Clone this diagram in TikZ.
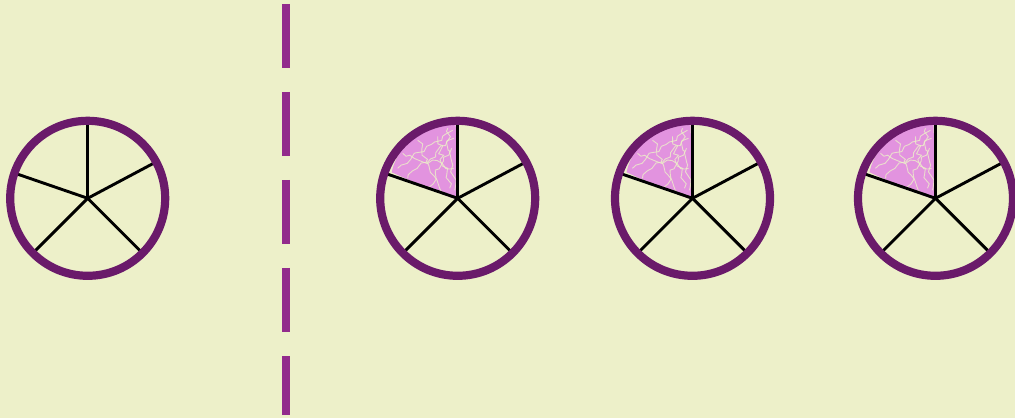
\documentclass[tikz,border=0pt]{standalone}
\usetikzlibrary{decorations.pathmorphing}
\definecolor{bg}{HTML}{EDF0C9}
\definecolor{ring}{HTML}{6A1A6A}
\definecolor{dashcol}{HTML}{922B8C}
\definecolor{pinkfill}{HTML}{E293DF}
\tikzset{
  ringline/.style={draw=ring, line width=8.2pt},
  spoke/.style={draw=black, line width=2.9pt},
  divider/.style={draw=dashcol, line width=8.3pt, dash pattern=on 64pt off 24pt},
  scrib/.style={draw=bg, line width=0.9pt, opacity=0.8,
    decorate, decoration={random steps, segment length=5pt, amplitude=3pt}}
}
\newcommand{\mywheel}[2]{%
  \coordinate (#1) at (#2,219.7);
  \draw[spoke] (#1) -- ++(90:77);
  \draw[spoke] (#1) -- ++(28:76);
  \draw[spoke] (#1) -- ++(-45:78);
  \draw[spoke] (#1) -- ++(-135:77);
  \draw[spoke] (#1) -- ++(161:81);
  \draw[ringline] (#1) circle (77.5);
}
\newcommand{\pinkwedge}[1]{%
  \begin{scope}[shift={(#1)}]
    \path[fill=pinkfill] (1,-2) -- (-10,2) -- (-28,9) -- (-66,26)
      .. controls (-62,45) and (-48,62) .. (-25,70)
      .. controls (-15,73) and (-6,74) .. (-2,73) -- (-1,40) -- cycle;
    \begin{scope}
      \clip (1,-2) -- (-10,2) -- (-28,9) -- (-66,26)
      .. controls (-62,45) and (-48,62) .. (-25,70)
      .. controls (-15,73) and (-6,74) .. (-2,73) -- (-1,40) -- cycle;
      \pgfmathsetseed{7}
      \draw[scrib] (-60,30) -- (-5,68);
      \draw[scrib] (-50,20) -- (-4,60);
      \draw[scrib] (-30,10) -- (-6,50);
      \draw[scrib] (-20,62) -- (-8,10);
      \draw[scrib] (-40,58) -- (-15,5);
      \draw[scrib] (-55,45) -- (-4,30);
      \draw[scrib] (-10,70) -- (-3,8);
    \end{scope}
    \draw[dashcol, line width=0.8pt] (-62,40) .. controls (-55,52) .. (-45,60);
  \end{scope}
}
\begin{document}
\begin{tikzpicture}[x=1pt,y=1pt]
  \fill[bg] (0,0) rectangle (1015,418);
  \useasboundingbox (0,0) rectangle (1015,418);
  \coordinate (dtop) at (286,414);
  \coordinate (dbot) at (286,3);
  \draw[divider] (dtop) -- (dbot);
  \coordinate (c2) at (457.7,219.7);
  \coordinate (c3) at (692.5,219.7);
  \coordinate (c4) at (935.5,219.7);
  \pinkwedge{c2}
  \pinkwedge{c3}
  \pinkwedge{c4}
  \mywheel{w1}{87.7}
  \mywheel{w2}{457.7}
  \mywheel{w3}{692.5}
  \mywheel{w4}{935.5}
\end{tikzpicture}
\end{document}
